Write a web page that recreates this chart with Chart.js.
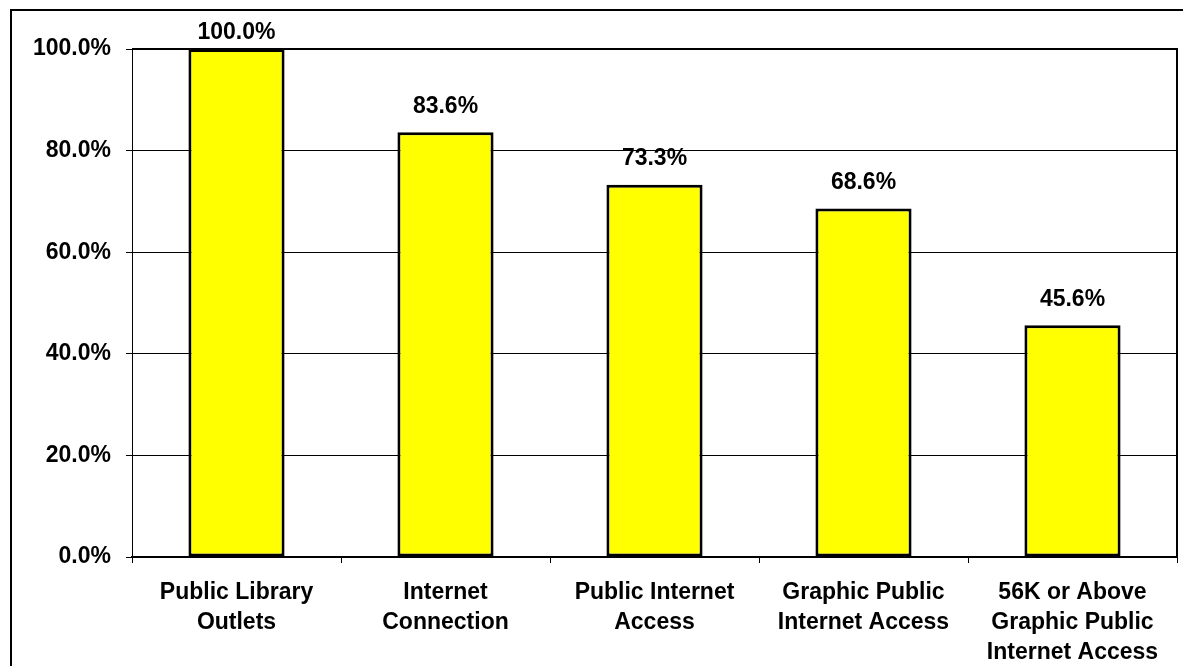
<!DOCTYPE html>
<html>
<head>
<meta charset="utf-8">
<script src="https://cdn.jsdelivr.net/npm/chart.js@4"></script>
<style>
  html, body { margin: 0; padding: 0; background: #fff; overflow: hidden; }
  #wrap { position: relative; width: 1183px; height: 666px; }
  #frame { position: absolute; left: 10px; top: 9px; width: 1200px; height: 700px; border: 2px solid #000; }
  canvas { position: absolute; left: 0; top: 0; }
</style>
</head>
<body>
<div id="wrap">
  <div id="frame"></div>
  <canvas id="barChart" width="1183" height="666"></canvas>
</div>
<script>
  'use strict'

  var categories = [
    ['Public Library', 'Outlets'],
    ['Internet', 'Connection'],
    ['Public Internet', 'Access'],
    ['Graphic Public', 'Internet Access'],
    ['56K or Above', 'Graphic Public', 'Internet Access']
  ];
  var percentValues = [100.0, 83.6, 73.3, 68.6, 45.6];
  var yTicks = [0, 20, 40, 60, 80, 100];

  var labelFont = { family: 'Arial, "Liberation Sans", sans-serif', size: 23, weight: 'bold' };

  // value labels above bars + plot area border
  var valueLabels = {
    id: 'valueLabels',
    afterDatasetsDraw: function (chart) {
      var ctx = chart.ctx;
      var area = chart.chartArea;
      ctx.save();
      ctx.strokeStyle = '#000';
      ctx.lineWidth = 2;
      ctx.beginPath();
      ctx.moveTo(area.left, area.top);
      ctx.lineTo(area.right, area.top);
      ctx.lineTo(area.right, area.bottom);
      ctx.stroke();

      ctx.fillStyle = '#000';
      ctx.font = 'bold 23px Arial, "Liberation Sans", sans-serif';
      ctx.textAlign = 'center';
      ctx.textBaseline = 'middle';
      chart.getDatasetMeta(0).data.forEach(function (bar, i) {
        var y = Math.max(bar.y - 26, 33);
        ctx.fillText(percentValues[i].toFixed(1) + '%', bar.x, y);
      });
      ctx.restore();
    }
  };

  var ctx1 = document.getElementById('barChart').getContext('2d');
  var chart = new Chart(ctx1, {
    type: 'bar',
    data: {
      labels: categories,
      datasets: [{
        data: percentValues,
        backgroundColor: '#ffff00',
        borderColor: '#000000',
        borderWidth: 3,
        borderSkipped: false,
        barPercentage: 0.46,
        categoryPercentage: 1
      }]
    },
    options: {
      responsive: false,
      animation: false,
      devicePixelRatio: 1,
      layout: { padding: { top: 49, right: 6, left: 0, bottom: 0 } },
      plugins: {
        legend: { display: false },
        tooltip: { enabled: false }
      },
      scales: {
        x: {
          grid: {
            offset: true,
            drawOnChartArea: false,
            drawTicks: true,
            tickLength: 6,
            color: '#000'
          },
          border: { color: '#000', width: 2 },
          ticks: {
            color: '#000',
            font: Object.assign({ lineHeight: 1.32 }, labelFont),
            padding: 14,
            maxRotation: 0,
            autoSkip: false
          },
          afterFit: function (scale) { scale.height = 109; }
        },
        y: {
          min: yTicks[0],
          max: yTicks[yTicks.length - 1],
          afterBuildTicks: function (scale) {
            scale.ticks = yTicks.map(function (v) { return { value: v }; });
          },
          grid: { color: '#000', lineWidth: 1, tickLength: 6 },
          border: { color: '#000', width: 1 },
          ticks: {
            color: '#000',
            font: labelFont,
            padding: 15,
            callback: function (v) { return Number(v).toFixed(1) + '%'; }
          },
          afterFit: function (scale) { scale.width = 132; }
        }
      }
    },
    plugins: [valueLabels]
  });
</script>
</body>
</html>
